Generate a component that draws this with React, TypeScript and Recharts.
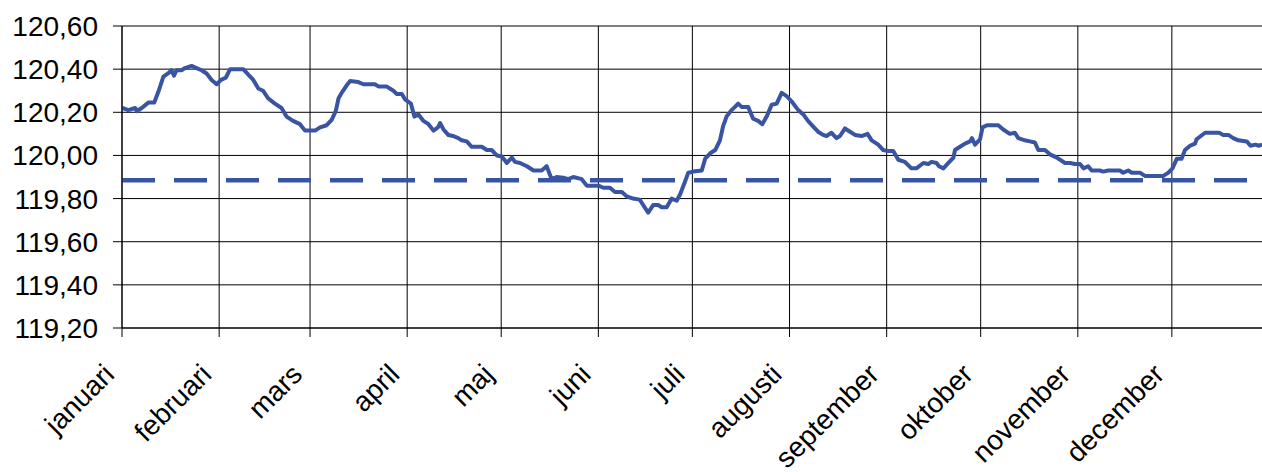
import React from "react";
import { LineChart, Line, XAxis, YAxis, CartesianGrid, ReferenceLine } from "recharts";

// Day of year (leap year, 0 = 1 januari) and index values
const DAYS: number[] = [
  0.1, 2.0, 4.2, 4.7, 6.3, 8.4, 10.3, 11.6, 13.2, 14.7, 15.8, 16.6, 17.4, 19.0, 20.1, 22.2, 23.8, 25.4, 27.0, 28.6,
  30.2, 31.6, 33.1, 34.5, 38.7, 40.3, 41.9, 43.5, 45.0, 46.6, 48.8, 50.9, 52.5, 54.6, 56.8, 58.4, 61.6, 63.2, 65.3, 66.9,
  68.2, 69.1, 70.3, 71.7, 72.8, 75.4, 77.0, 80.7, 81.8, 84.4, 86.6, 87.7, 89.3, 90.3, 92.2, 93.3, 94.6, 96.2, 97.8, 99.4,
  100.8, 101.5, 102.6, 104.1, 105.7, 107.3, 108.4, 110.0, 111.6, 114.8, 116.4, 118.0, 119.6, 121.2, 122.8, 124.4, 125.4, 127.0, 129.2, 131.3,
  133.9, 135.5, 137.1, 138.7, 140.8, 142.4, 144.0, 146.7, 148.3, 152.0, 153.6, 155.7, 157.3, 159.5, 161.1, 163.1, 165.2, 166.3, 167.9, 169.5,
  171.1, 172.2, 173.8, 175.4, 177.0, 178.1, 179.7, 180.7, 182.3, 185.0, 186.1, 187.7, 189.3, 190.8, 191.8, 192.9, 194.5, 195.6, 196.6, 197.7,
  199.8, 201.4, 203.0, 204.3, 205.7, 207.3, 208.9, 210.5, 212.1, 213.7, 215.8, 217.4, 218.9, 220.5, 222.1, 223.7, 224.8, 226.4, 228.0, 229.1,
  230.7, 232.3, 233.9, 236.0, 237.9, 239.2, 241.3, 242.9, 244.5, 246.1, 247.7, 249.8, 251.9, 253.5, 255.7, 257.3, 258.3, 259.9, 260.7, 262.1,
  263.7, 265.3, 265.8, 267.4, 269.0, 270.6, 271.2, 272.2, 273.8, 274.6, 276.0, 279.6, 281.2, 283.3, 284.9, 286.0, 288.1, 289.7, 291.3, 292.4,
  294.5, 296.1, 298.3, 300.9, 302.5, 304.1, 305.7, 306.8, 308.3, 309.4, 312.0, 313.1, 314.7, 318.4, 319.5, 321.1, 322.2, 324.8, 326.4, 329.1,
  332.3, 333.9, 335.2, 336.6, 338.1, 339.2, 340.8, 342.4, 342.9, 345.6, 350.1, 351.4, 353.0, 354.6, 356.2, 358.9, 360.1, 361.7, 362.6, 363.8,
];

const VALUES: number[] = [
  120.22, 120.21, 120.22, 120.205, 120.22, 120.245, 120.245, 120.295, 120.365, 120.38, 120.395, 120.37, 120.395, 120.395, 120.405, 120.415, 120.405, 120.395, 120.38, 120.35,
  120.33, 120.35, 120.36, 120.4, 120.4, 120.375, 120.35, 120.31, 120.3, 120.265, 120.24, 120.22, 120.18, 120.16, 120.145, 120.115, 120.115, 120.13, 120.14, 120.165,
  120.205, 120.265, 120.295, 120.325, 120.345, 120.34, 120.33, 120.33, 120.32, 120.32, 120.3, 120.285, 120.285, 120.26, 120.24, 120.18, 120.19, 120.16, 120.145, 120.115,
  120.13, 120.15, 120.12, 120.095, 120.09, 120.08, 120.07, 120.065, 120.04, 120.04, 120.025, 120.025, 120.0, 119.995, 119.965, 119.99, 119.97, 119.965, 119.95, 119.93,
  119.93, 119.95, 119.89, 119.9, 119.897, 119.89, 119.9, 119.89, 119.86, 119.86, 119.85, 119.85, 119.83, 119.83, 119.81, 119.8, 119.795, 119.77, 119.735, 119.77,
  119.77, 119.76, 119.76, 119.8, 119.79, 119.82, 119.88, 119.92, 119.925, 119.93, 119.985, 120.01, 120.025, 120.07, 120.135, 120.18, 120.21, 120.225, 120.24, 120.225,
  120.225, 120.17, 120.16, 120.145, 120.18, 120.235, 120.24, 120.29, 120.275, 120.25, 120.21, 120.19, 120.16, 120.135, 120.11, 120.095, 120.09, 120.105, 120.08, 120.09,
  120.125, 120.11, 120.095, 120.09, 120.1, 120.07, 120.05, 120.025, 120.02, 120.02, 119.98, 119.97, 119.94, 119.94, 119.965, 119.96, 119.97, 119.965, 119.95, 119.94,
  119.965, 119.99, 120.025, 120.04, 120.055, 120.065, 120.08, 120.05, 120.075, 120.13, 120.14, 120.14, 120.12, 120.1, 120.105, 120.08, 120.07, 120.065, 120.06, 120.025,
  120.025, 120.005, 119.99, 119.965, 119.965, 119.96, 119.96, 119.94, 119.95, 119.93, 119.93, 119.925, 119.93, 119.93, 119.92, 119.93, 119.92, 119.92, 119.905, 119.905,
  119.905, 119.92, 119.94, 119.985, 119.985, 120.025, 120.045, 120.055, 120.075, 120.105, 120.105, 120.095, 120.095, 120.08, 120.07, 120.065, 120.045, 120.05, 120.045, 120.05,
];

const AVERAGE = 119.885;

const MONTHS: string[] = [
  "januari", "februari", "mars", "april", "maj", "juni",
  "juli", "augusti", "september", "oktober", "november", "december",
];
const MONTH_STARTS: number[] = [0, 31, 60, 91, 121, 152, 182, 213, 244, 274, 305, 335];
const Y_TICKS: number[] = [119.2, 119.4, 119.6, 119.8, 120.0, 120.2, 120.4, 120.6];

const data = DAYS.map((d, i) => ({ day: d, value: VALUES[i] }));

const FONT = "'Liberation Sans', Arial, Helvetica, sans-serif";
const BLUE = "#3A54A4";

const MonthTick = (props: any) => {
  const { x, payload } = props;
  const idx = MONTH_STARTS.indexOf(payload.value);
  const label = idx >= 0 ? MONTHS[idx] : "";
  return (
    <g transform={`translate(${x - 6},${376})`}>
      <text
        x={0}
        y={0}
        textAnchor="end"
        transform="rotate(-45)"
        fontSize={28}
        fontFamily={FONT}
        fill="#000"
      >
        {label}
      </text>
    </g>
  );
};

export default function App() {
  return (
    <div
      style={{
        position: "absolute",
        left: 0,
        top: 0,
        width: 1262,
        height: 472,
        overflow: "hidden",
        background: "#fff",
        fontFamily: FONT,
      }}
    >
      <LineChart
        width={1270}
        height={472}
        data={data}
        margin={{ top: 26, right: 1, bottom: 0, left: 0 }}
      >
        <CartesianGrid stroke="#000" strokeWidth={1} />
        <XAxis
          type="number"
          dataKey="day"
          domain={[0, 366]}
          ticks={MONTH_STARTS}
          interval={0}
          height={144}
          tickSize={9}
          axisLine={{ stroke: "#000" }}
          tickLine={{ stroke: "#000" }}
          tick={<MonthTick />}
        />
        <YAxis
          type="number"
          domain={[119.2, 120.6]}
          ticks={Y_TICKS}
          interval={0}
          width={122}
          tickSize={9}
          tickMargin={15}
          axisLine={{ stroke: "#000" }}
          tickLine={{ stroke: "#000" }}
          tick={{ fontSize: 28, fill: "#000", fontFamily: FONT }}
          tickFormatter={(v: number) => v.toFixed(2).replace(".", ",")}
        />
        <ReferenceLine
          y={AVERAGE}
          stroke={BLUE}
          strokeWidth={4.3}
          strokeDasharray="33 19"
        />
        <Line
          type="linear"
          dataKey="value"
          stroke={BLUE}
          strokeWidth={4}
          strokeLinejoin="round"
          dot={false}
          isAnimationActive={false}
        />
      </LineChart>
    </div>
  );
}
